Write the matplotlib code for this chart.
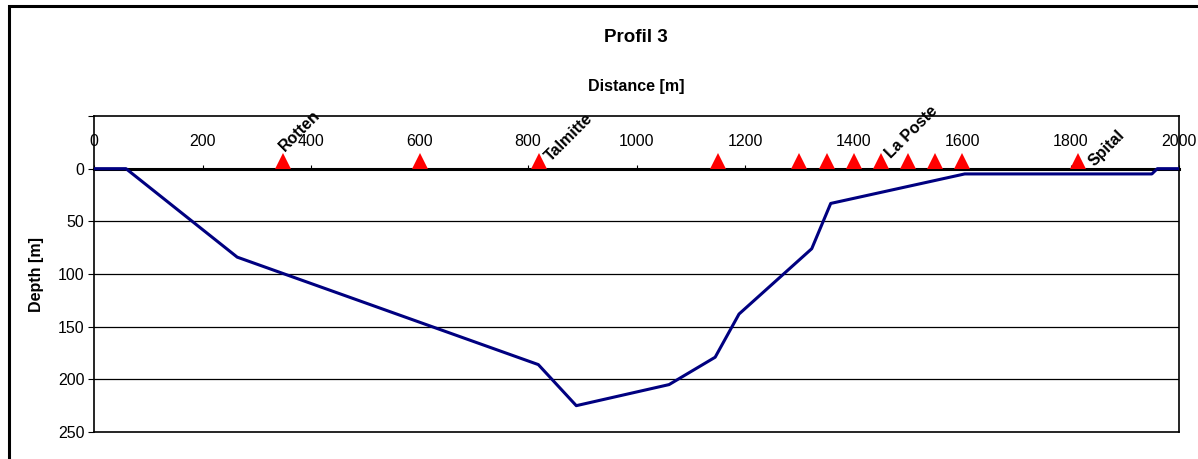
import matplotlib
matplotlib.use("Agg")
import matplotlib.pyplot as plt
from matplotlib.patches import Rectangle

plt.rcParams['font.family'] = ['Liberation Sans', 'DejaVu Sans']

# profile (distance [m], depth [m])
distance = [0, 59, 264, 819, 889, 1060, 1145, 1189, 1323, 1358, 1605, 1934, 1950, 1960, 2000]
depth = [0, 0, 84, 186, 225, 205, 179, 138, 76, 33, 5, 5, 5, 0, 0]

# stations at the surface
station_x = [348, 601, 820, 1150, 1300, 1352, 1400, 1450, 1500, 1550, 1600, 1813]
station_y = [-7] * len(station_x)
station_names = ['Rotten', '', 'Talmitte', '', '', '', '', 'La Poste', '', '', '', 'Spital']

x_ticks = [0, 200, 400, 600, 800, 1000, 1200, 1400, 1600, 1800, 2000]
y_ticks = [-50, 0, 50, 100, 150, 200, 250]
y_labels = ['', '0', '50', '100', '150', '200', '250']

W, H = 1198, 459
fig = plt.figure(figsize=(W / 100, H / 100), dpi=100)

# outer chart border (cut off at right and bottom)
fig.patches.append(Rectangle((9 / W, -0.1), 1.2, 1 - 6 / H + 0.1, transform=fig.transFigure,
                             fill=False, edgecolor='black', linewidth=2.2))

ax = fig.add_axes([94 / W, 1 - 432 / H, (1179 - 94) / W, (432 - 116) / H])
ax.set_xlim(0, 2000)
ax.set_ylim(250, -50)

for g in [50, 100, 150, 200]:
    ax.axhline(g, color='black', linewidth=0.9, zorder=1)
ax.axhline(-50, color='black', linewidth=1.2, clip_on=False, zorder=1)

ax.plot(distance, depth, color='#000080', linewidth=2.2, zorder=3)
ax.plot(station_x, station_y, linestyle='none', marker='^', color='red',
        markersize=11, markeredgewidth=0, zorder=4, clip_on=False)

# label placement as in the original chart (offset in points)
label_offsets = {'Rotten': (3, 5), 'Talmitte': (10, -2), 'La Poste': (9, 0), 'Spital': (14, -5.5)}
for sx, sy, name in zip(station_x, station_y, station_names):
    if name:
        ax.annotate(name, (sx, sy), xytext=label_offsets[name], textcoords='offset points',
                    rotation=45, rotation_mode='anchor', ha='left', va='bottom',
                    fontsize=11.5, fontweight='bold')

# x axis sits on depth 0, labels above it
ax.xaxis.set_ticks_position('top')
ax.spines['top'].set_position(('data', 0))
ax.spines['top'].set_linewidth(2.2)
ax.spines['top'].set_zorder(2)
ax.set_xticks(x_ticks)
ax.tick_params(axis='x', direction='out', length=3, pad=11, labelsize=11.5)

ax.set_yticks(y_ticks)
ax.set_yticklabels(y_labels)
ax.tick_params(axis='y', direction='out', length=4, pad=3, labelsize=11.5)

for side in ['left', 'right', 'bottom']:
    ax.spines[side].set_linewidth(1.2)

fig.text(636 / W, 1 - 38 / H, 'Profil 3', ha='center', va='center', fontsize=13.5, fontweight='bold')
fig.text(636 / W, 1 - 87 / H, 'Distance [m]', ha='center', va='center', fontsize=11.5, fontweight='bold')
fig.text(37 / W, 1 - 275 / H, 'Depth [m]', ha='center', va='center', rotation=90,
         fontsize=11.5, fontweight='bold')

fig.savefig('out.png', dpi=100)
